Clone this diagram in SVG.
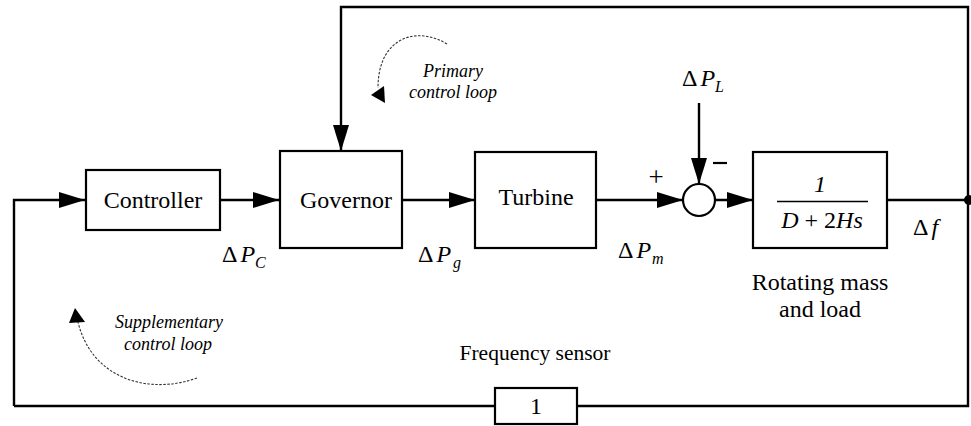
<svg xmlns="http://www.w3.org/2000/svg" width="971" height="426" viewBox="0 0 971 426">
<style>
.box{fill:#fff;stroke:#000;stroke-width:2.2}
.ln{fill:none;stroke:#000;stroke-width:2.4}
.arr{fill:none;stroke:#000;stroke-width:2.4;marker-end:url(#ah)}
.dash{fill:none;stroke:#333;stroke-width:1.1;stroke-dasharray:2.5 1.5}
.t{font-family:"Liberation Serif","Times New Roman",serif;font-size:24px;fill:#000}
.fs{font-size:21.5px}
.pl{font-size:27px}
.ti{font-family:"Liberation Serif","Times New Roman",serif;font-size:18px;font-style:italic;fill:#000}
.m{font-family:"Liberation Serif","Times New Roman",serif;font-size:24px;fill:#000}
.mi{font-style:italic}
.sub{font-family:"Liberation Serif","Times New Roman",serif;font-size:16px;font-style:italic;fill:#000}
</style>
<defs>
<marker id="ah" markerUnits="userSpaceOnUse" markerWidth="26" markerHeight="16" viewBox="0 0 26 16" refX="26" refY="8" orient="auto">
<path d="M0,0 L26,8 L0,16 Z" fill="#000"/>
</marker>
</defs>
<rect width="971" height="426" fill="#fff"/>

<g id="connectors">
<path class="arr" d="M14,406 L14,200 L85,200"/>
<path class="arr" d="M220,200 L279,200"/>
<path class="arr" d="M402,200 L475,200"/>
<path class="arr" d="M596,200 L683,200"/>
<path class="arr" d="M715,200 L753,200"/>
<path class="arr" d="M699,103 L699,184"/>
<path class="arr" d="M968,200 L968,7 L341,7 L341,151"/>
<path class="ln" d="M887,200 L968,200"/>
<path class="ln" d="M968,200 L968,406 L14,406"/>
<circle cx="969" cy="200" r="5" fill="#000"/>
<path class="dash" d="M447,44 C418,26 378,36 378,88"/>
<polygon points="371,95 384,86 385,103" fill="#000"/>
<path class="dash" d="M197,378 C150,395 92,380 78,322"/>
<polygon points="75,308 69,323 85,322" fill="#000"/>
</g>

<g id="controller">
<rect class="box" x="86" y="170" width="134" height="60"/>
<text class="t" x="153" y="208" text-anchor="middle">Controller</text>
</g>
<g id="governor">
<rect class="box" x="280" y="151" width="122" height="97"/>
<text class="t" x="346" y="208" text-anchor="middle">Governor</text>
</g>
<g id="turbine">
<rect class="box" x="475" y="152" width="121" height="96"/>
<text class="t" x="536" y="205" text-anchor="middle">Turbine</text>
</g>
<g id="sum">
<circle cx="699" cy="200" r="16" fill="#fff" stroke="#000" stroke-width="2.2"/>
<text class="t pl" x="656" y="186" text-anchor="middle">+</text>
<path d="M713,163 L727,163" stroke="#000" stroke-width="2.2"/>
</g>
<g id="rotating">
<rect class="box" x="753" y="152" width="134" height="96"/>
<text class="m mi" x="820" y="192" text-anchor="middle">1</text>
<path d="M777,201.5 L868,201.5" stroke="#000" stroke-width="1.5"/>
<text class="m" x="822" y="228" text-anchor="middle"><tspan class="mi">D</tspan> + 2<tspan class="mi">Hs</tspan></text>
<text class="t" x="820" y="290" text-anchor="middle">Rotating mass</text>
<text class="t" x="820" y="317" text-anchor="middle">and load</text>
</g>
<g id="sensor">
<rect class="box" x="495" y="388" width="82" height="36"/>
<text class="t" x="536" y="414" text-anchor="middle">1</text>
<text class="t fs" x="535" y="360" text-anchor="middle">Frequency sensor</text>
</g>

<g id="labels">
<text class="m" x="222" y="262">Δ<tspan class="mi" dx="3">P</tspan></text>
<text class="sub" x="255" y="268">C</text>
<text class="m" x="418" y="262">Δ<tspan class="mi" dx="3">P</tspan></text>
<text class="sub" x="453" y="268">g</text>
<text class="m" x="618" y="258">Δ<tspan class="mi" dx="3">P</tspan></text>
<text class="sub" x="652" y="264">m</text>
<text class="m" x="682" y="86">Δ<tspan class="mi" dx="3">P</tspan></text>
<text class="sub" x="715" y="92">L</text>
<text class="m" x="913" y="235">Δ<tspan class="mi" dx="3">f</tspan></text>
<text class="ti" x="453" y="77" text-anchor="middle">Primary</text>
<text class="ti" x="453" y="98" text-anchor="middle">control loop</text>
<text class="ti" x="169" y="328" text-anchor="middle">Supplementary</text>
<text class="ti" x="168" y="350" text-anchor="middle">control loop</text>
</g>
</svg>
